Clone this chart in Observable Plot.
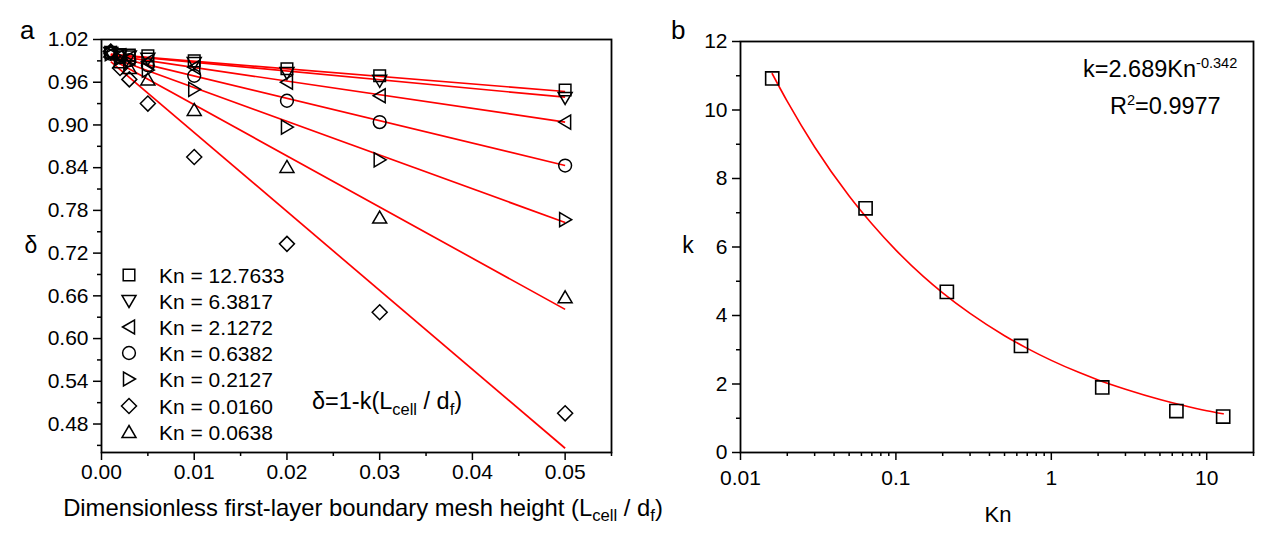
<!DOCTYPE html>
<html><head><meta charset="utf-8">
<script src="https://cdn.jsdelivr.net/npm/d3@7"></script>
<script src="https://cdn.jsdelivr.net/npm/@observablehq/plot@0.6"></script>
<style>
body{margin:0;background:#fff;}
#wrap{position:relative;width:1269px;height:533px;overflow:hidden;font-family:"Liberation Sans",Arial,sans-serif;color:#000;}
.abs{position:absolute;white-space:nowrap;line-height:1;}
.abs sub{font-size:0.7em;vertical-align:-0.32em;line-height:0;}
.abs sup{font-size:0.62em;vertical-align:0.62em;line-height:0;}
#pa,#pb{position:absolute;top:0;}
</style></head><body><div id="wrap"><div id="pa"></div><div id="pb"></div></div>
<script>
// ---------- Panel a data ----------
const meshX = [0.001, 0.002, 0.003, 0.005, 0.01, 0.02, 0.03, 0.05];
const knLabels = ["12.7633", "6.3817", "2.1272", "0.6382", "0.2127", "0.0160", "0.0638"];
const symbolNames = ["square", "triangleDown", "triangleLeft", "circle", "triangleRight", "diamond", "triangleUp"];
const delta_Kn12_7633 = [1.002, 0.999, 0.998, 0.997, 0.990, 0.979, 0.969, 0.949];
const delta_Kn6_3817  = [1.001, 0.998, 0.996, 0.993, 0.987, 0.973, 0.962, 0.938];
const delta_Kn2_1272  = [1.000, 0.997, 0.994, 0.989, 0.981, 0.960, 0.941, 0.904];
const delta_Kn0_6382  = [1.000, 0.995, 0.991, 0.984, 0.969, 0.934, 0.904, 0.843];
const delta_Kn0_2127  = [1.000, 0.993, 0.988, 0.977, 0.950, 0.897, 0.851, 0.767];
const delta_Kn0_0160  = [1.003, 0.980, 0.964, 0.930, 0.855, 0.733, 0.637, 0.495];
const delta_Kn0_0638  = [1.003, 0.988, 0.980, 0.964, 0.921, 0.841, 0.770, 0.658];
const deltaSeries = [delta_Kn12_7633, delta_Kn6_3817, delta_Kn2_1272, delta_Kn0_6382, delta_Kn0_2127, delta_Kn0_0160, delta_Kn0_0638];
// linear fit lines (start at x=0.001, end at x=0.05)
const lineX = [0.001, 0.05];
const lineStart = [0.999, 0.999, 0.998, 0.997, 0.995, 0.989, 0.993];
const lineEnd   = [0.947, 0.939, 0.904, 0.843, 0.763, 0.446, 0.641];
const xTicksA = [0, 0.01, 0.02, 0.03, 0.04, 0.05];
const xMinorA = [0.005, 0.015, 0.025, 0.035, 0.045, 0.055];
const yTicksA = [0.48, 0.54, 0.60, 0.66, 0.72, 0.78, 0.84, 0.90, 0.96, 1.02];
const yMinorA = [0.45, 0.51, 0.57, 0.63, 0.69, 0.75, 0.81, 0.87, 0.93, 0.99];

// ---------- Panel b data ----------
const knValues = [0.016, 0.0638, 0.2127, 0.6382, 2.1272, 6.3817, 12.7633];
const kValues  = [10.92, 7.13, 4.69, 3.11, 1.90, 1.21, 1.05];
const fitKn = [0.016, 0.02, 0.03, 0.05, 0.07, 0.1, 0.15, 0.2, 0.3, 0.5, 0.7, 1, 1.5, 2, 3, 5, 7, 10, 12.7633];
const fitK  = [11.06, 10.25, 8.92, 7.49, 6.68, 5.91, 5.14, 4.66, 4.06, 3.41, 3.04, 2.69, 2.34, 2.12, 1.85, 1.55, 1.38, 1.22, 1.13];
const xTicksB = [0.01, 0.1, 1, 10];
const xMinorB = [0.02,0.03,0.04,0.05,0.06,0.07,0.08,0.09,0.2,0.3,0.4,0.5,0.6,0.7,0.8,0.9,2,3,4,5,6,7,8,9,20];
const yTicksB = [0, 2, 4, 6, 8, 10, 12];
const yMinorB = [1, 3, 5, 7, 9, 11];

// ---------- symbols ----------
function poly(pts) {
  return {draw(ctx, size) {
    const s = Math.sqrt(size / Math.PI) / 6;
    ctx.moveTo(pts[0][0] * s, pts[0][1] * s);
    for (let i = 1; i < pts.length; i++) ctx.lineTo(pts[i][0] * s, pts[i][1] * s);
    ctx.closePath();
  }};
}
const SYM = {
  square: poly([[-5.8,-5.8],[5.8,-5.8],[5.8,5.8],[-5.8,5.8]]),
  triangleDown: poly([[0,6.5],[7,-5.5],[-7,-5.5]]),
  triangleLeft: poly([[-6.5,0],[5.5,-7],[5.5,7]]),
  circle: {draw(ctx, size) { const R = 6.4 * Math.sqrt(size / Math.PI) / 6; ctx.moveTo(R, 0); ctx.arc(0, 0, R, 0, 2 * Math.PI); ctx.closePath(); }},
  triangleRight: poly([[6.5,0],[-5.5,-7],[-5.5,7]]),
  diamond: poly([[0,-7.5],[7.5,0],[0,7.5],[-7.5,0]]),
  triangleUp: poly([[0,-6.5],[7,5.5],[-7,5.5]])
};

const FONT = '"Liberation Sans", Arial, sans-serif';

// ---------- Panel a ----------
const idx = knLabels.map((_, i) => i);
const plotA = Plot.plot({
  width: 640, height: 533,
  marginLeft: 101, marginRight: 29, marginTop: 39, marginBottom: 81,
  style: {fontSize: "21px", fontFamily: FONT, color: "#000", background: "transparent"},
  x: {domain: [0, 0.055], label: null},
  y: {domain: [0.44, 1.02], label: null},
  marks: [
    Plot.link(idx, {x1: () => lineX[0], y1: i => lineStart[i], x2: () => lineX[1], y2: i => lineEnd[i], stroke: "#ff0000", strokeWidth: 1.7}),
    ...deltaSeries.map((series, i) => Plot.dot(meshX, {x: d => d, y: (d, j) => series[j], symbol: SYM[symbolNames[i]], r: 6, stroke: "#000", strokeWidth: 1.5, fill: "none"})),
    Plot.axisX({ticks: xTicksA, tickFormat: d3.format(".2f"), tickSize: 8, tickPadding: 4, strokeWidth: 1.5, label: null}),
    Plot.axisX({ticks: xMinorA, tickFormat: () => "", tickSize: 4, strokeWidth: 1.5, label: null}),
    Plot.axisY({ticks: yTicksA, tickFormat: d3.format(".2f"), tickSize: 8, tickPadding: 5, strokeWidth: 1.5, label: null}),
    Plot.axisY({ticks: yMinorA, tickFormat: () => "", tickSize: 4, strokeWidth: 1.5, label: null}),
    Plot.frame({stroke: "#000", strokeWidth: 1.8})
  ]
});
document.getElementById("pa").style.left = "0px";
document.getElementById("pa").appendChild(plotA);

// ---------- Panel b ----------
const plotB = Plot.plot({
  width: 629, height: 533,
  marginLeft: 100, marginRight: 16, marginTop: 41, marginBottom: 81,
  style: {fontSize: "21px", fontFamily: FONT, color: "#000", background: "transparent"},
  x: {type: "log", domain: [0.01, 20], label: null},
  y: {domain: [0, 12], label: null},
  marks: [
    Plot.line(fitKn, {x: d => d, y: (d, j) => fitK[j], stroke: "#ff0000", strokeWidth: 1.6, curve: "monotone-x"}),
    Plot.dot(knValues, {x: d => d, y: (d, j) => kValues[j], symbol: SYM.square, r: 6.8, stroke: "#000", strokeWidth: 1.6, fill: "none"}),
    Plot.axisX({ticks: xTicksB, tickFormat: d => String(d), tickSize: 8, tickPadding: 10, strokeWidth: 1.5, label: null}),
    Plot.axisX({ticks: xMinorB, tickFormat: () => "", tickSize: 4, strokeWidth: 1.5, label: null}),
    Plot.axisY({ticks: yTicksB, tickFormat: d => String(d), tickSize: 8, tickPadding: 5, strokeWidth: 1.5, label: null}),
    Plot.axisY({ticks: yMinorB, tickFormat: () => "", tickSize: 4, strokeWidth: 1.5, label: null}),
    Plot.frame({stroke: "#000", strokeWidth: 1.8})
  ]
});
document.getElementById("pb").style.left = "640px";
document.getElementById("pb").appendChild(plotB);

// ---------- text overlays ----------
const wrap = document.getElementById("wrap");
function addText(html, x, y, opts = {}) {
  const d = document.createElement("div");
  d.className = "abs";
  d.innerHTML = html;
  d.style.fontSize = (opts.size || 21) + "px";
  d.style.left = x + "px";
  d.style.top = y + "px";
  const tx = opts.anchor === "middle" ? "-50%" : opts.anchor === "end" ? "-100%" : "0";
  d.style.transform = `translate(${tx},-50%)` + (opts.rotate ? ` rotate(${opts.rotate}deg)` : "");
  wrap.appendChild(d);
  return d;
}
addText("a", 20, 30, {size: 26});
addText("b", 671, 30, {size: 26});
addText("Dimensionless first-layer boundary mesh height (L<sub>cell</sub> / d<sub>f</sub>)", 363, 508, {anchor: "middle", size: 23.8});
addText("δ", 31, 245, {anchor: "middle", size: 23});
addText("δ=1-k(L<sub>cell</sub> / d<sub>f</sub>)", 312, 402, {size: 23.5});
addText("Kn", 998, 515, {anchor: "middle", size: 22});
addText("k", 688, 245, {anchor: "middle", size: 23});
addText("k=2.689Kn<sup>-0.342</sup>", 1083, 70, {size: 23.5});
addText("R<sup>2</sup>=0.9977", 1110, 107, {size: 23.5});

// legend
knLabels.forEach((kn, i) => {
  const cy = 275 + 26.1 * i;
  const svg = d3.create("svg").attr("width", 22).attr("height", 22)
    .style("position", "absolute").style("left", (129 - 11) + "px").style("top", (cy - 11) + "px").style("overflow", "visible");
  const p = d3.path();
  SYM[symbolNames[i]].draw(p, 36 * Math.PI);
  svg.append("path").attr("transform", "translate(11,11)").attr("d", p.toString())
    .attr("fill", "none").attr("stroke", "#000").attr("stroke-width", 1.5);
  wrap.appendChild(svg.node());
  addText("Kn = " + kn, 159, cy, {size: 21});
});
</script>
</body></html>
